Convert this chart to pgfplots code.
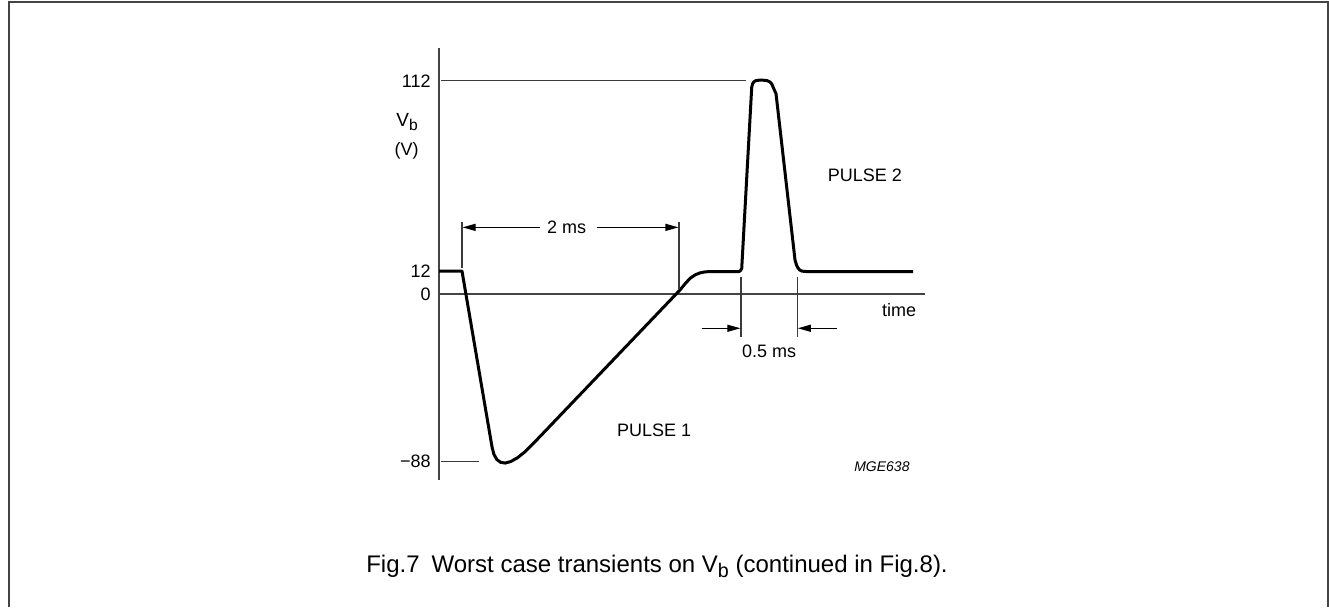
\documentclass[border=0pt]{standalone}
\usepackage{fontspec}
\setmainfont{Liberation Sans}
\usepackage{graphicx}
\usepackage{pgfplots}
\pgfplotsset{compat=1.18}
\usetikzlibrary{arrows.meta}
\definecolor{axgray}{HTML}{444444}
\definecolor{dimgray}{HTML}{3a3a3a}
\newcommand{\vsub}[1]{\raisebox{-0.42ex}{\scalebox{0.82}{#1}}}
\begin{document}
\begin{tikzpicture}
\begin{scope}[x=0.5pt,y=-0.5pt]
\useasboundingbox (0,0) rectangle (1329,607);
\draw[axgray, line width=1pt] (8.5,607) -- (8.5,1.5) -- (1327.5,1.5) -- (1327.5,607);
\node[anchor=base, font=\fontsize{12}{14}\selectfont, inner sep=0pt] at (657,572) {Fig.7\enspace Worst case transients on V\vsub{b} (continued in Fig.8).};
\node[anchor=base west, font=\fontsize{9.5}{10}\selectfont, inner sep=0pt] at (396,126.5) {V\vsub{b}};
\node[anchor=center, font=\fontsize{9}{10}\selectfont, inner sep=0pt] at (406.5,151) {(V)};
\end{scope}
\begin{axis}[at={(219.5pt,-240pt)}, anchor=south west, scale only axis,
  width=243pt, height=216pt,
  xmin=-0.212, xmax=4.267, ymin=-97.7, ymax=129.2,
  axis x line=middle, axis y line=left,
  axis line style={-, line width=1pt, axgray},
  xtick=\empty, ytick={-88,0,12,112}, yticklabels={−88,0,12,112},
  major tick length=0pt,
  yticklabel style={anchor=east, inner sep=0pt, xshift=-4pt, font=\fontsize{9}{10}\selectfont},
  clip=false]
\addplot[black, line width=1.5pt, line join=round] coordinates {
(-0.212,12) (0,12) (0.2765,-80.3) (0.2941,-84.2) (0.3202,-86.9) (0.3547,-88.4) (0.3977,-88.8) (0.4491,-88.0) (0.5092,-86.1) (0.5775,-83.0) (0.6544,-78.7)
(2.009,2.1) (2.055,5.3) (2.101,8.2) (2.15,10.1) (2.194,11.1) (2.24,11.6) (2.286,11.8) (2.553,11.8) (2.566,12.2) (2.578,13.5)
(2.670,108.5) (2.678,110.4) (2.691,111.5) (2.71,112.1) (2.74,112.3) (2.774,112.3) (2.81,112.1) (2.838,111.4) (2.855,110.3) (2.866,108.8) (2.894,105.2)
(3.069,17.9) (3.083,15.2) (3.097,13.6) (3.115,12.5) (3.134,12) (3.171,11.8) (4.157,11.8)
};
% reference level lines
\draw[dimgray, line width=0.55pt] (axis cs:-0.19,112) -- (axis cs:2.618,112);
\draw[dimgray, line width=0.55pt] (axis cs:-0.19,-88) -- (axis cs:0.157,-88);
% 2 ms dimension
\draw[dimgray, line width=0.55pt] (axis cs:0,38) -- (axis cs:0,13.7);
\draw[dimgray, line width=0.55pt] (axis cs:2.0,38) -- (axis cs:2.0,2.5);
\draw[black, line width=0.55pt, -{Triangle[length=6.5pt,width=3.5pt]}] (axis cs:0.719,35) -- (axis cs:0.005,35);
\draw[black, line width=0.55pt, -{Triangle[length=6.5pt,width=3.5pt]}] (axis cs:1.241,35) -- (axis cs:1.995,35);
\node[font=\fontsize{9}{10}\selectfont, inner sep=0pt] at (axis cs:0.965,35) {2 ms};
% 0.5 ms dimension
\draw[dimgray, line width=0.55pt] (axis cs:2.571,9.1) -- (axis cs:2.571,-22.4);
\draw[dimgray, line width=0.55pt] (axis cs:3.090,9.1) -- (axis cs:3.090,-22.4);
\draw[black, line width=0.55pt, -{Triangle[length=6.5pt,width=3.5pt]}] (axis cs:2.209,-18) -- (axis cs:2.566,-18);
\draw[black, line width=0.55pt, -{Triangle[length=6.5pt,width=3.5pt]}] (axis cs:3.453,-18) -- (axis cs:3.095,-18);
\node[font=\fontsize{9}{10}\selectfont, inner sep=0pt] at (axis cs:2.83,-30) {0.5 ms};
% labels
\node[font=\fontsize{9}{10}\selectfont, inner sep=0pt] at (axis cs:4.028,-8.4) {time};
\node[font=\fontsize{9}{10}\selectfont, inner sep=0pt] at (axis cs:3.714,62.5) {PULSE 2};
\node[font=\fontsize{9}{10}\selectfont, inner sep=0pt] at (axis cs:1.77,-71.4) {PULSE 1};
\node[font=\fontsize{7}{8}\selectfont\itshape, inner sep=0pt] at (axis cs:3.87,-90.7) {MGE638};
\end{axis}
\end{tikzpicture}
\end{document}
